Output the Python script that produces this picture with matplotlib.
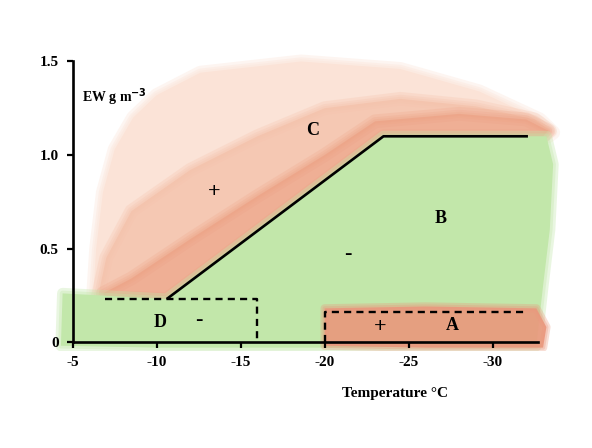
#!/usr/bin/env python3
"""Sketch of ice-water excess (EW) regions versus temperature."""

import matplotlib
matplotlib.use("Agg")
import matplotlib.pyplot as plt

# boundary curve (solid)
curve_t = [-10.6, -23.5, -32.1]
curve_ew = [0.23, 1.10, 1.10]

# dashed box D
d_t = [-6.9, -16.0, -16.0]
d_ew = [0.23, 0.23, 0.0]

# dashed box A
a_t = [-20.0, -20.0, -32.0]
a_ew = [0.0, 0.16, 0.16]

# shaded regions (outline points)
c_outer_t = [-6.2, -6.4, -6.8, -7.5, -8.6, -10.0, -12.6, -18.6, -24.5, -29.2, -32.8, -33.6,
             -33.3, -23.5, -10.6, -6.5]
c_outer_ew = [0.22, 0.50, 0.80, 1.03, 1.20, 1.32, 1.44, 1.50, 1.46, 1.34, 1.19, 1.12,
              1.10, 1.10, 0.23, 0.22]
c_mid_t = [-6.5, -7.0, -8.5, -12.0, -16.0, -20.0, -24.5, -29.0, -32.5, -33.4, -33.0,
           -23.5, -10.6, -7.0]
c_mid_ew = [0.24, 0.45, 0.70, 0.92, 1.10, 1.25, 1.30, 1.26, 1.19, 1.13, 1.10,
            1.10, 0.23, 0.24]
c_dense_t = [-6.8, -8.5, -12.0, -16.0, -20.0, -23.0, -28.0, -32.0, -33.3, -33.0,
             -23.5, -10.6, -7.0]
c_dense_ew = [0.26, 0.34, 0.55, 0.78, 1.00, 1.18, 1.22, 1.19, 1.13, 1.10,
              1.10, 0.23, 0.24]
green_t = [-4.3, -4.4, -10.6, -23.5, -33.2, -33.6, -33.4, -33.0, -32.6, -20.0, -10.0, -4.3]
green_ew = [-0.02, 0.26, 0.23, 1.10, 1.10, 0.95, 0.60, 0.30, -0.02, -0.03, -0.03, -0.02]
red_a_t = [-20.0, -20.0, -26.0, -32.6, -33.2, -33.0, -26.0]
red_a_ew = [-0.02, 0.18, 0.19, 0.18, 0.08, -0.03, -0.03]

x_ticks = [-5, -10, -15, -20, -25, -30]
y_ticks = [0, 0.5, 1.0, 1.5]
y_tick_labels = ["0", "0.5", "1.0", "1.5"]

region_letters = [("C", -19.3, 1.13), ("B", -26.9, 0.66), ("D", -10.2, 0.107), ("A", -27.6, 0.086)]
region_signs = [("+", -13.4, 0.80), ("-", -21.4, 0.47), ("-", -12.5, 0.118), ("+", -23.3, 0.08)]

RED_PALE = "#fbe3d7"
RED_MID = "#f4c2ab"
RED_DENSE = "#ec9f82"
RED_A = "#ea977c"
GREEN = "#c2e7aa"


def soft_fill(ax, xs, ys, color, alpha, z, blur=(10, 6, 3)):
    """Fill a polygon with a feathered edge, like coloured pencil."""
    for lw in blur:
        ax.fill(xs, ys, facecolor="none", edgecolor=color, lw=lw,
                alpha=alpha * 0.35, joinstyle="round", zorder=z)
    ax.fill(xs, ys, color=color, alpha=alpha, lw=0, zorder=z)


plt.rcParams["font.family"] = ["Liberation Serif", "DejaVu Serif"]

fig = plt.figure(figsize=(5.92, 4.48), dpi=100)
ax = fig.add_axes([0.0802, 0.2157, 0.8797, 0.6888])
ax.set_xlim(-3.5, -34.5)
ax.set_ylim(-0.05, 1.6)

# coloured-pencil shading
soft_fill(ax, c_outer_t, c_outer_ew, RED_PALE, 1.0, 1.0)
soft_fill(ax, c_mid_t, c_mid_ew, RED_MID, 0.8, 1.1)
soft_fill(ax, c_dense_t, c_dense_ew, RED_DENSE, 0.6, 1.2)
soft_fill(ax, green_t, green_ew, GREEN, 1.0, 1.3, blur=(8, 4))
soft_fill(ax, red_a_t, red_a_ew, RED_A, 0.9, 1.4, blur=(6, 3))

# lines
ax.plot(curve_t, curve_ew, color="black", lw=1.9, solid_capstyle="butt", zorder=3)
ax.plot(d_t, d_ew, color="black", lw=1.7, ls=(0, (3, 2.2)), zorder=3)
ax.plot(a_t, a_ew, color="black", lw=1.7, ls=(0, (3, 2.2)), zorder=3)

# axes styling
for side in ["top", "right"]:
    ax.spines[side].set_visible(False)
ax.spines["left"].set_position(("data", -5))
ax.spines["bottom"].set_position(("data", 0))
ax.spines["left"].set_bounds(0, 1.5)
ax.spines["bottom"].set_bounds(-5, -32.7)
for side in ["left", "bottom"]:
    ax.spines[side].set_linewidth(1.9)
    ax.spines[side].set_zorder(4)

ax.set_xticks(x_ticks)
ax.set_xticklabels([str(t) for t in x_ticks])
ax.set_yticks(y_ticks)
ax.set_yticklabels(y_tick_labels)
ax.tick_params(axis="x", direction="out", length=4, width=1.6, pad=6, labelsize=11)
ax.tick_params(axis="y", direction="out", length=4, width=1.6, pad=6, labelsize=11)
for lab in ax.get_xticklabels() + ax.get_yticklabels():
    lab.set_fontweight("bold")

ax.text(-5.55, 1.31, r"EW g m$^{\mathbf{-3}}$", fontsize=10, fontweight="bold",
        ha="left", va="center")
ax.text(-24.2, -0.275, "Temperature \u00b0C", fontsize=11, fontweight="bold",
        ha="center", va="center", clip_on=False)

for txt, t, ew in region_letters:
    ax.text(t, ew, txt, fontsize=13, fontweight="bold", ha="center", va="center", zorder=5)
for txt, t, ew in region_signs:
    ax.text(t, ew, txt, fontsize=16, fontweight="bold", ha="center", va="center", zorder=5)

fig.savefig("out.png", dpi=100)
